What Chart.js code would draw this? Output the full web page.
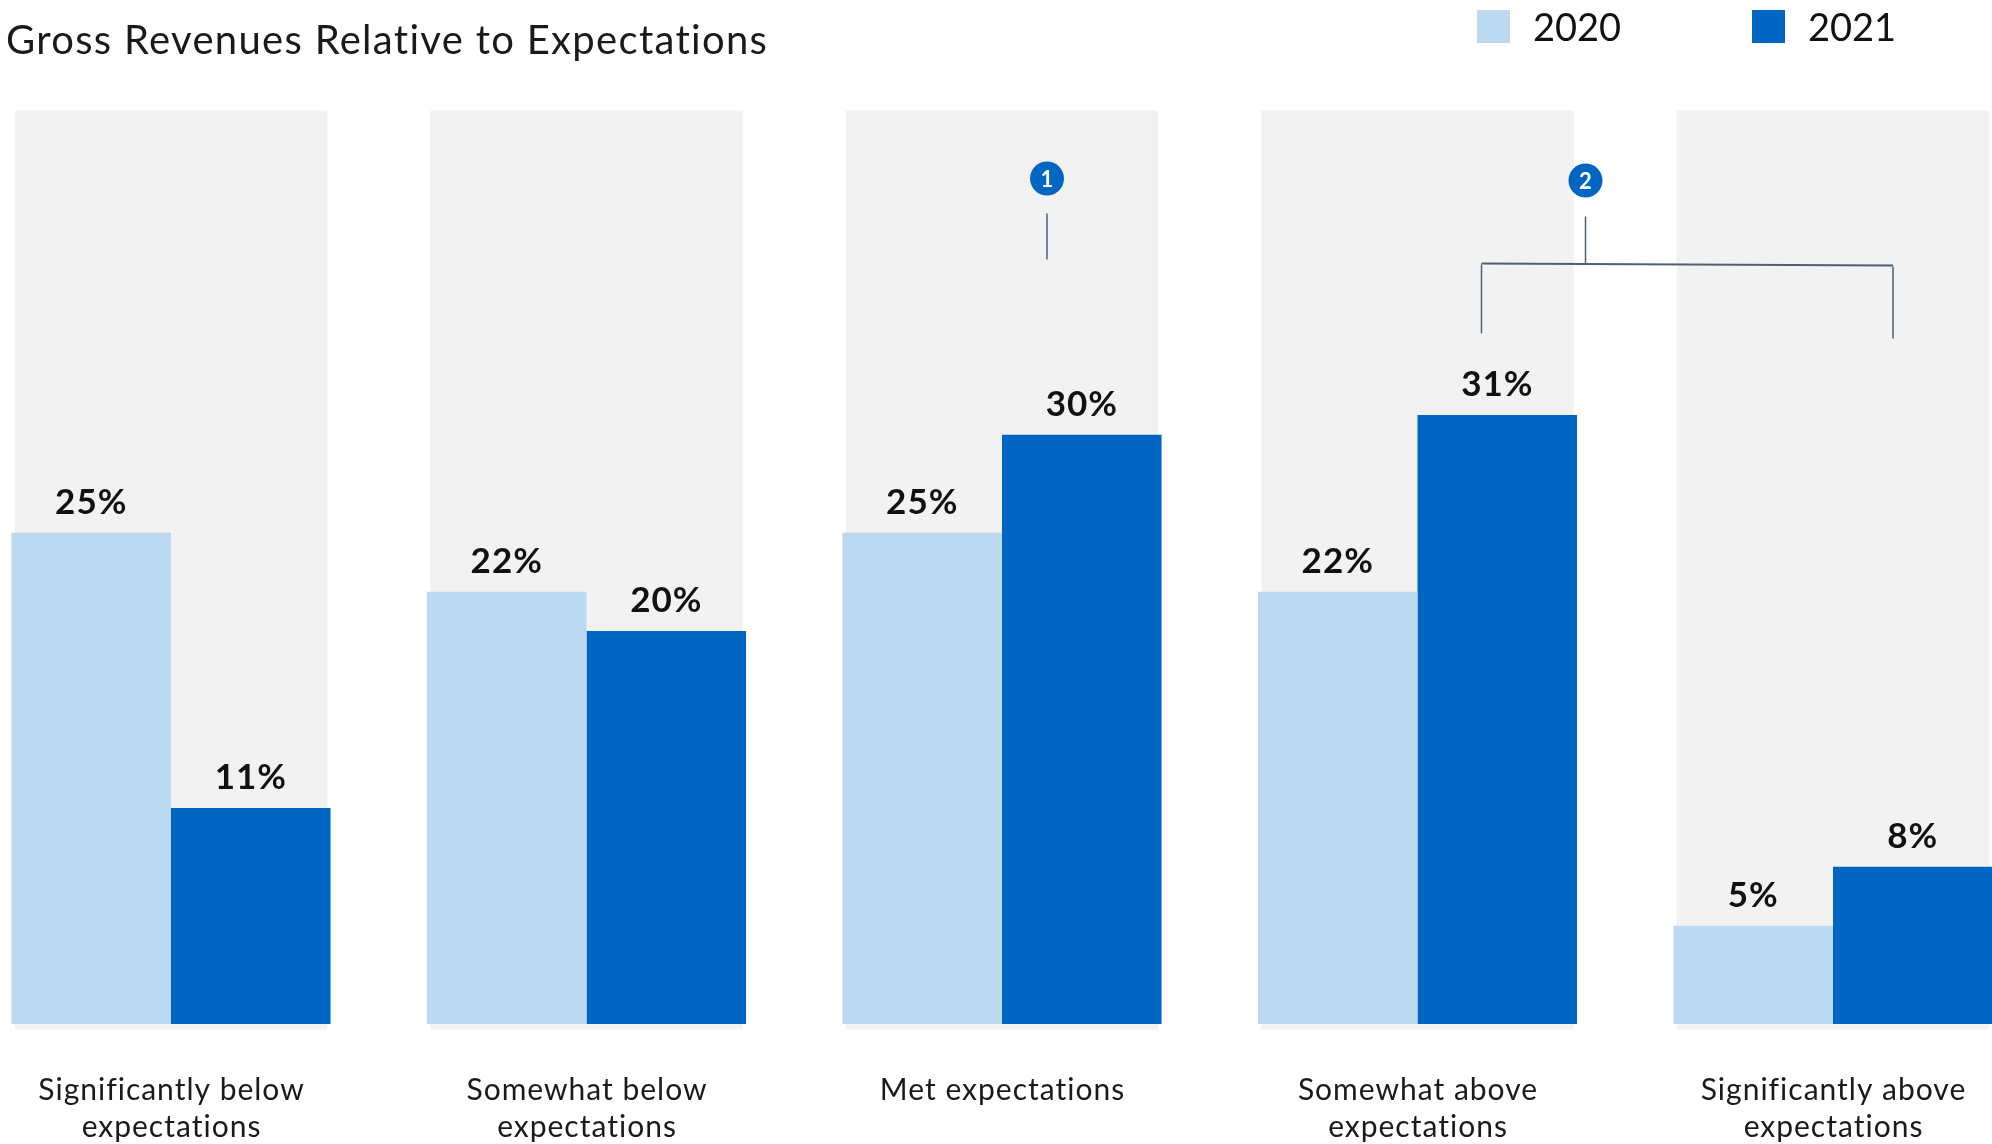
<!DOCTYPE html>
<html>
<head>
<meta charset="utf-8">
<script src="https://cdn.jsdelivr.net/npm/chart.js@4.4.1/dist/chart.umd.min.js"></script>
<style>
body { margin: 0; background: #fff; font-family: Lato, sans-serif; }
#wrap { position: relative; width: 1992px; height: 1144px; overflow: hidden; }
#title { position: absolute; left: 6px; top: 16px; font-size: 40px; line-height: 46px; letter-spacing: 1.3px; color: #1a1a1a; }
.key { position: absolute; top: 10px; height: 33px; font-size: 38px; line-height: 33px; color: #111; white-space: nowrap; }
.key span { display: inline-block; width: 33px; height: 33px; vertical-align: top; margin-right: 23px; }
</style>
</head>
<body>
<div id="wrap">
  <canvas id="chart" width="1992" height="1144"></canvas>
  <div id="title">Gross Revenues Relative to Expectations</div>
  <div class="key" id="key0" style="left:1477px"><span></span>2020</div>
  <div class="key" id="key1" style="left:1752px"><span></span>2021</div>
</div>
<script>
/* chart data */
var categories = [
    ["Significantly below", "expectations"],
    ["Somewhat below", "expectations"],
    ["Met expectations"],
    ["Somewhat above", "expectations"],
    ["Significantly above", "expectations"]
];
var years = ["2020", "2021"];
var values2020 = [25, 22, 25, 22, 5];
var values2021 = [11, 20, 30, 31, 8];
// grey column behind each pair (floating, dips a little under the baseline)
var backdrop = [[-0.28, 46.5], [-0.28, 46.5], [-0.28, 46.5], [-0.28, 46.5], [-0.28, 46.5]];
var yMax = 46.5;

var colors = ["#bbdaf2", "#0066c2"];

document.querySelector("#key0 span").style.background = colors[0];
document.querySelector("#key1 span").style.background = colors[1];

Chart.defaults.font.family = "Lato";

/* category names under each group, placed from the x scale */
var categoryLabels = {
    id: "categoryLabels",
    afterDraw: function(chart) {
        var ctx = chart.ctx;
        var x = chart.scales.x;
        var base = chart.chartArea.bottom;
        ctx.save();
        ctx.letterSpacing = "1px";
        ctx.font = "30px Lato";
        ctx.fillStyle = "#1a1a1a";
        ctx.textAlign = "center";
        ctx.textBaseline = "middle";
        chart.data.labels.forEach(function(lines, i) {
            lines.forEach(function(txt, j) {
                ctx.fillText(txt, x.getPixelForValue(i) + 0.5, base + 66 + j * 37);
            });
        });
        ctx.restore();
    }
};

/* percent labels over each bar */
var valueLabels = {
    id: "valueLabels",
    afterDatasetsDraw: function(chart) {
        var ctx = chart.ctx;
        ctx.save();
        ctx.letterSpacing = "1px";
        ctx.font = "bold 35px Lato";
        ctx.fillStyle = "#111";
        ctx.textAlign = "center";
        ctx.textBaseline = "middle";
        for (var d = 0; d < 2; d++) {
            var meta = chart.getDatasetMeta(d);
            meta.data.forEach(function(bar, i) {
                ctx.fillText(chart.data.datasets[d].data[i] + "%", bar.x, bar.y - 30);
            });
        }
        ctx.restore();
    }
};

/* numbered callouts: 1 over "Met expectations", 2 bracketing the "above" groups */
var callouts = {
    id: "callouts",
    afterDraw: function(chart) {
        var ctx = chart.ctx;
        var x = chart.scales.x;
        var top = chart.chartArea.top;

        function marker(cx, cy, txt) {
            ctx.beginPath();
            ctx.fillStyle = "#0066c2";
            ctx.arc(cx, cy, 17, 0, Math.PI * 2);
            ctx.fill();
            ctx.fillStyle = "#fff";
            ctx.font = "bold 22px Lato";
            ctx.textAlign = "center";
            ctx.textBaseline = "middle";
            ctx.fillText(txt, cx, cy + 1);
        }
        function line(x1, y1, x2, y2) {
            ctx.beginPath();
            ctx.moveTo(x1, y1);
            ctx.lineTo(x2, y2);
            ctx.stroke();
        }

        ctx.save();
        ctx.strokeStyle = "#4f6073";
        ctx.lineWidth = 1.5;

        var c1 = x.getPixelForValue(2) + 45;
        marker(c1, top + 68, "1");
        line(c1, top + 103, c1, top + 149);

        var c2 = x.getPixelForValue(3) + 168;
        var left = x.getPixelForValue(3) + 64;
        var right = x.getPixelForValue(4) + 60;
        marker(c2, top + 70, "2");
        line(c2, top + 106, c2, top + 153);
        ctx.lineWidth = 2;
        line(left, top + 153, right, top + 155);
        ctx.lineWidth = 1.5;
        line(left, top + 154, left, top + 223);
        line(right, top + 156, right, top + 228);
        ctx.restore();
    }
};

var ctx0 = document.getElementById("chart");

var myChart = new Chart(ctx0, {
    type: "bar",
    data: {
        labels: categories,
        datasets: [{
            label: years[0],
            data: values2020,
            backgroundColor: colors[0],
            categoryPercentage: 0.768,
            barPercentage: 1,
            clip: false,
            order: 1
        }, {
            label: years[1],
            data: values2021,
            backgroundColor: colors[1],
            categoryPercentage: 0.768,
            barPercentage: 1,
            clip: false,
            order: 1
        }, {
            label: "bg",
            data: backdrop,
            backgroundColor: "#f2f2f2",
            grouped: false,
            categoryPercentage: 0.752,
            barPercentage: 1,
            clip: false,
            order: 2
        }]
    },
    options: {
        responsive: false,
        animation: false,
        layout: { padding: { left: 171, right: 159, top: 110.5, bottom: 120 } },
        plugins: {
            legend: { display: false },
            tooltip: { enabled: false }
        },
        scales: {
            x: {
                display: false,
                offset: false
            },
            y: {
                display: false,
                min: 0,
                max: yMax
            }
        }
    },
    plugins: [valueLabels, categoryLabels, callouts]
});
</script>
</body>
</html>
